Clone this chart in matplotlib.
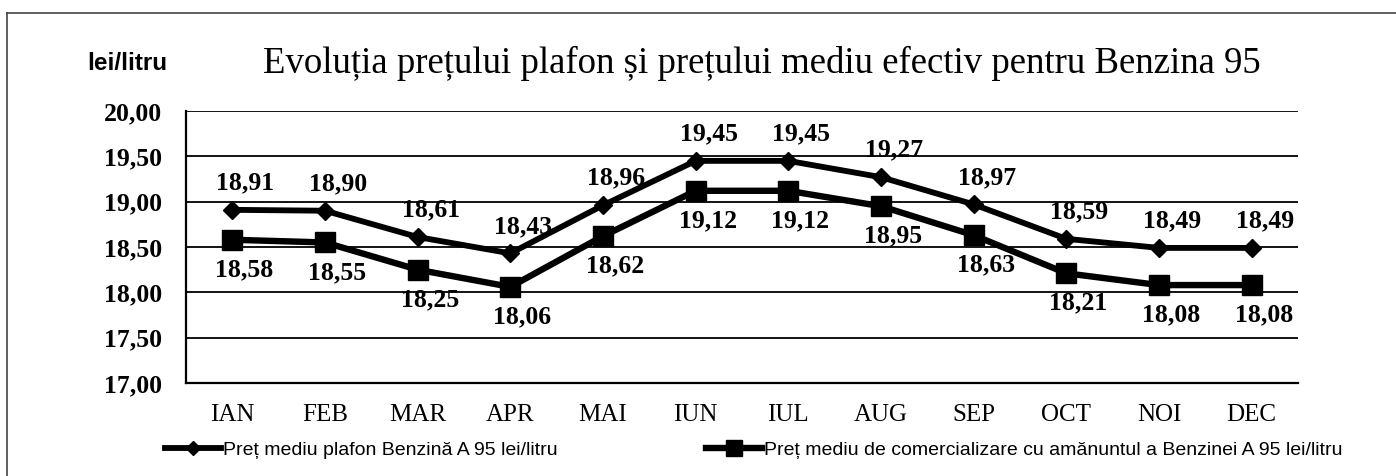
import matplotlib
matplotlib.use("Agg")
import matplotlib.pyplot as plt
from matplotlib.lines import Line2D
from matplotlib.ticker import FuncFormatter, FixedLocator

months = ["IAN", "FEB", "MAR", "APR", "MAI", "IUN", "IUL", "AUG", "SEP", "OCT", "NOI", "DEC"]
plafon = [18.91, 18.90, 18.61, 18.43, 18.96, 19.45, 19.45, 19.27, 18.97, 18.59, 18.49, 18.49]
retail = [18.58, 18.55, 18.25, 18.06, 18.62, 19.12, 19.12, 18.95, 18.63, 18.21, 18.08, 18.08]
yticks = [17.0, 17.5, 18.0, 18.5, 19.0, 19.5, 20.0]

label_plafon = "Preț mediu plafon Benzină A 95 lei/litru"
label_retail = "Preț mediu de comercializare cu amănuntul a Benzinei A 95 lei/litru"
title = "Evoluția prețului plafon și prețului mediu efectiv pentru Benzina 95"
unit = "lei/litru"

SERIF = ["Liberation Serif", "DejaVu Serif"]
SANS = ["Liberation Sans", "DejaVu Sans"]

def fmt(v):
    return f"{v:.2f}".replace(".", ",")

W, H = 1396, 476
fig = plt.figure(figsize=(W / 100, H / 100), dpi=100)
ax = fig.add_axes([186 / W, 1 - 383 / H, (1298 - 186) / W, (383 - 111) / H])

x = list(range(len(months)))
l1, = ax.plot(x, plafon, color="black", lw=4.2, marker="D", ms=9.5,
              markerfacecolor="black", markeredgecolor="black", label=label_plafon, zorder=4)
l2, = ax.plot(x, retail, color="black", lw=4.6, marker="s", ms=15,
              markerfacecolor="black", markeredgecolor="black", label=label_retail, zorder=4)

px = 0.72  # points per pixel
for xi, v in zip(x, plafon):
    ax.annotate(fmt(v), (xi, v), xytext=(13 * px, 27 * px), textcoords="offset points",
                ha="center", va="center", fontsize=18.5, fontweight="bold",
                family=SERIF, color="black", zorder=5)
for xi, v in zip(x, retail):
    ax.annotate(fmt(v), (xi, v), xytext=(12 * px, -30 * px), textcoords="offset points",
                ha="center", va="center", fontsize=18.5, fontweight="bold",
                family=SERIF, color="black", zorder=5)

ax.set_xlim(-0.5, len(months) - 0.5)
ax.set_ylim(17.0, 20.0)
ax.yaxis.set_major_locator(FixedLocator(yticks))
ax.yaxis.set_major_formatter(FuncFormatter(lambda v, p: fmt(v)))
ax.set_xticks(x)
ax.set_xticklabels(months)
for t in ax.get_yticklabels():
    t.set_family(SERIF); t.set_fontweight("bold"); t.set_fontsize(18.5)
for t in ax.get_xticklabels():
    t.set_family(SERIF); t.set_fontsize(18)
ax.tick_params(axis="y", length=0, pad=17)
ax.tick_params(axis="x", length=0, pad=15)

ax.grid(axis="y", color="black", lw=1.3)
ax.set_axisbelow(True)
for s in ["top", "right"]:
    ax.spines[s].set_visible(False)
ax.spines["left"].set_linewidth(1.6)
ax.spines["bottom"].set_linewidth(1.6)

fig.text(762 / W, 1 - 63 / H, title, ha="center", va="center", fontsize=26.5,
         family=SERIF, color="black")
fig.text(127 / W, 1 - 64 / H, unit, ha="center", va="center", fontsize=17.5,
         fontweight="bold", family=SANS, color="black")

leg = fig.legend(handles=[l1, l2], loc="center left", bbox_to_anchor=(165 / W, 1 - 450 / H),
                 ncol=2, frameon=False, borderpad=0, borderaxespad=0, handlelength=2.9,
                 handletextpad=0.1, columnspacing=7.6, markerscale=0.8,
                 prop={"family": SANS, "size": 14.0})

# outer frame
fig.add_artist(Line2D([7 / W, 7 / W], [0, 1 - 13 / H], color="#444444", lw=1.2))
fig.add_artist(Line2D([7 / W, 1], [1 - 13 / H, 1 - 13 / H], color="#444444", lw=1.2))

fig.savefig("out.png", dpi=100)
